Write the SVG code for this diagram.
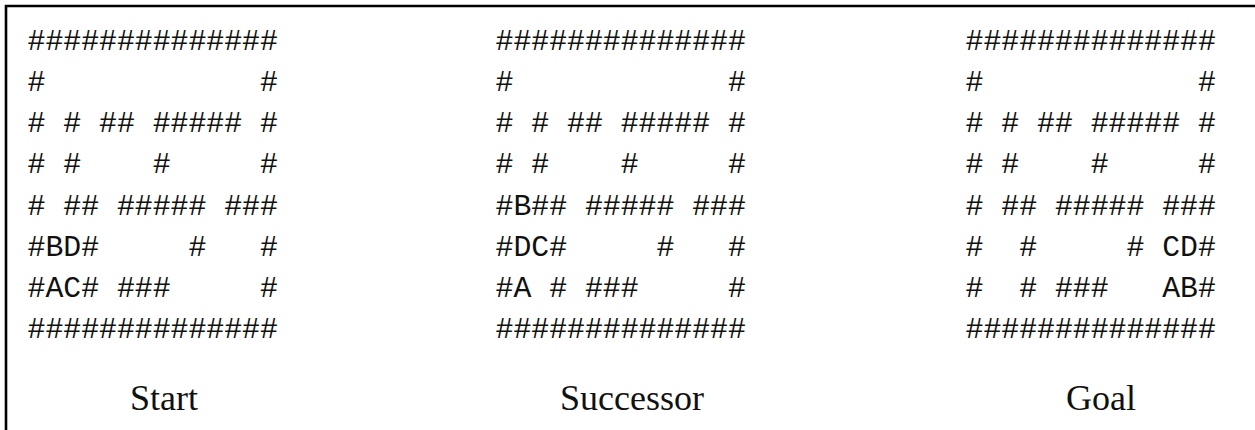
<svg xmlns="http://www.w3.org/2000/svg" width="1255" height="430" viewBox="0 0 1255 430">
<style>
.g{font-family:"Liberation Mono","DejaVu Sans Mono",monospace;font-size:29.8px;fill:#111;white-space:pre}
.lbl{font-family:"Liberation Serif","DejaVu Serif",serif;font-size:36px;fill:#111;text-anchor:middle}
</style>
<rect width="1255" height="430" fill="#fff"/>
<path d="M6,432 V6 H1257" fill="none" stroke="#000" stroke-width="2.6"/>
<g id="start">
<text class="g" xml:space="preserve" x="27.5" y="50">##############</text>
<text class="g" xml:space="preserve" x="27.5" y="91">#            #</text>
<text class="g" xml:space="preserve" x="27.5" y="132"># # ## ##### #</text>
<text class="g" xml:space="preserve" x="27.5" y="173"># #    #     #</text>
<text class="g" xml:space="preserve" x="27.5" y="215"># ## ##### ###</text>
<text class="g" xml:space="preserve" x="27.5" y="256">#BD#     #   #</text>
<text class="g" xml:space="preserve" x="27.5" y="297">#AC# ###     #</text>
<text class="g" xml:space="preserve" x="27.5" y="338">##############</text>
<text class="lbl" x="164" y="410">Start</text>
</g>
<g id="successor">
<text class="g" xml:space="preserve" x="495.5" y="50">##############</text>
<text class="g" xml:space="preserve" x="495.5" y="91">#            #</text>
<text class="g" xml:space="preserve" x="495.5" y="132"># # ## ##### #</text>
<text class="g" xml:space="preserve" x="495.5" y="173"># #    #     #</text>
<text class="g" xml:space="preserve" x="495.5" y="215">#B## ##### ###</text>
<text class="g" xml:space="preserve" x="495.5" y="256">#DC#     #   #</text>
<text class="g" xml:space="preserve" x="495.5" y="297">#A # ###     #</text>
<text class="g" xml:space="preserve" x="495.5" y="338">##############</text>
<text class="lbl" x="632" y="410">Successor</text>
</g>
<g id="goal">
<text class="g" xml:space="preserve" x="965.5" y="50">##############</text>
<text class="g" xml:space="preserve" x="965.5" y="91">#            #</text>
<text class="g" xml:space="preserve" x="965.5" y="132"># # ## ##### #</text>
<text class="g" xml:space="preserve" x="965.5" y="173"># #    #     #</text>
<text class="g" xml:space="preserve" x="965.5" y="215"># ## ##### ###</text>
<text class="g" xml:space="preserve" x="965.5" y="256">#  #     # CD#</text>
<text class="g" xml:space="preserve" x="965.5" y="297">#  # ###   AB#</text>
<text class="g" xml:space="preserve" x="965.5" y="338">##############</text>
<text class="lbl" x="1101" y="410">Goal</text>
</g>
<g id="connectors"/>
</svg>
